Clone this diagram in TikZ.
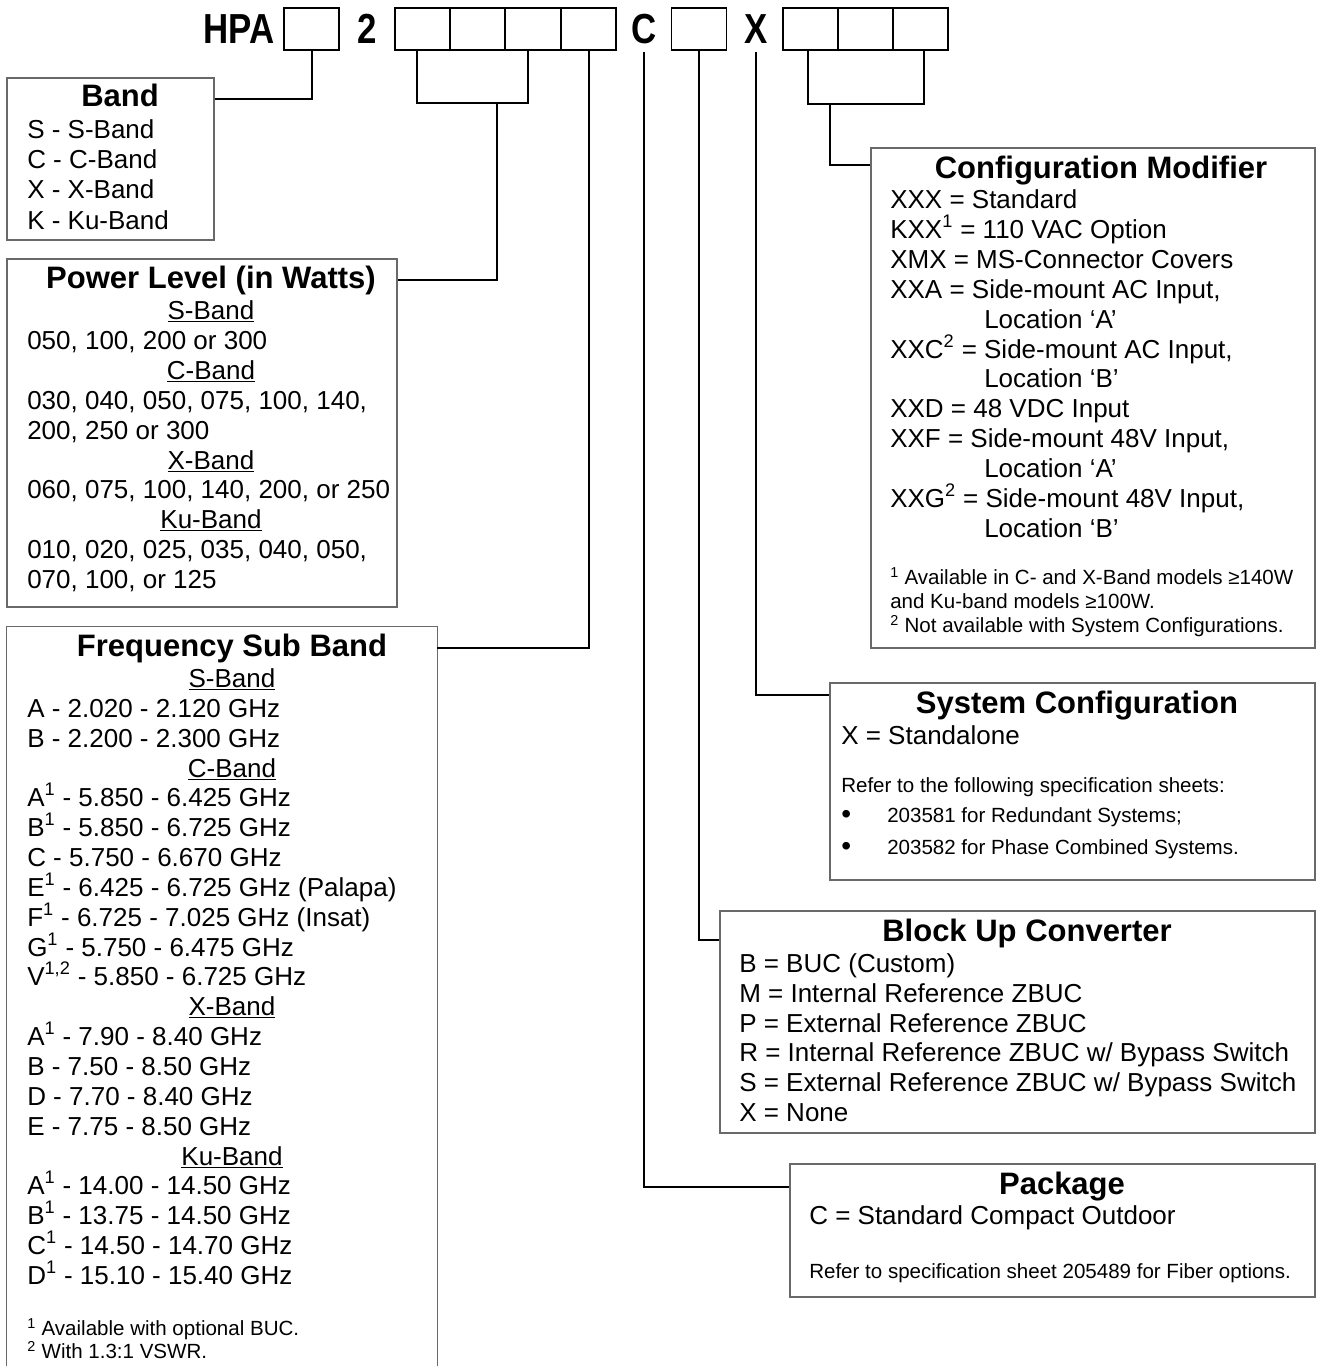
\documentclass[tikz,border=0pt]{standalone}
\usepackage{fontspec}
\setmainfont{Liberation Sans}
\usetikzlibrary{fit}
\definecolor{boxgray}{RGB}{105,105,105}
\newcommand\mybody{\fontsize{19.5}{22.5}\selectfont}
\newcommand\mytitle{\bfseries\fontsize{23.25}{26}\selectfont}
\newcommand\mysmall{\fontsize{15.4}{18}\selectfont}
\newcommand\myhead{\bfseries\fontsize{31.5}{32}\selectfont}
\newcommand\hdtxt[1]{\scalebox{0.83}[1]{#1}}
\begin{document}
\begin{tikzpicture}[x=0.75pt,y=-0.75pt,
  box/.style={draw=boxgray,line width=1.1pt,inner sep=0pt},
  conn/.style={draw=black,line width=1.5pt},
  cell/.style={draw=black,line width=1.4pt,minimum width=41.25pt,minimum height=31.5pt,inner sep=0pt},
  t/.style={anchor=base west,inner sep=0pt,font=\mybody},
  hd/.style={anchor=base,inner sep=0pt,font=\mybody},
  ttl/.style={anchor=base,inner sep=0pt,font=\mytitle},
  sm/.style={anchor=base west,inner sep=0pt,font=\mysmall},
  bul/.style={anchor=base west,inner sep=0pt,font=\fontsize{21}{22}\selectfont},
  big/.style={inner sep=0pt,font=\myhead}]
\path[use as bounding box,clip] (0,0) rectangle (1317,1366);
\fill[white] (0,0) rectangle (1317,1366);

% ---- header code ----
\node[big,anchor=base east] (hpa) at (275,44) {\hdtxt{HPA}};
\node[cell] (ca) at (311.5,29) {};
\node[big,anchor=base] (two) at (367,44) {\hdtxt{2}};
\node[cell] (b1) at (422.5,29) {};
\node[cell] (b2) at (477.5,29) {};
\node[cell] (b3) at (533,29) {};
\node[cell] (b4) at (588.5,29) {};
\node[big,anchor=base] (lc) at (644,44) {\hdtxt{C}};
\node[cell] (cc) at (699,29) {};
\node[big,anchor=base] (lx) at (756,44) {\hdtxt{X}};
\node[cell] (d1) at (810.5,29) {};
\node[cell] (d2) at (865.5,29) {};
\node[cell] (d3) at (920.5,29) {};

% ---- boxes ----
\node[box,fit={(7,78) (214,240)}] (band) {};
\node[box,fit={(7,259) (397,607)}] (power) {};
\node[fit={(7,627) (437,1380)},inner sep=0pt] (freq) {};
\draw[box] (freq.south west) |- (freq.north east) -- (freq.south east);
\node[box,fit={(871,148) (1315,648)}] (cfg) {};
\node[box,fit={(830,683) (1315,880)}] (sys) {};
\node[box,fit={(720,911) (1315,1133)}] (buc) {};
\node[box,fit={(790,1164) (1315,1297)}] (pkg) {};

% ---- connectors ----
\draw[conn] (ca.south) |- (band.east |- 0,99);
\draw[conn] ([xshift=-4.5pt]b1.south) -- ([xshift=-4.5pt]b1.south |- 0,103) -- ([xshift=-3.75pt]b3.south |- 0,103) -- ([xshift=-3.75pt]b3.south);
\coordinate (bm) at (497,103);
\draw[conn] (bm) |- (power.east |- 0,280);
\draw[conn] (b4.south) |- (freq.east |- 0,648);
\draw[conn] (lc.south |- 0,52) |- (pkg.west |- 0,1187);
\draw[conn] (cc.south) |- (buc.west |- 0,940);
\draw[conn] (lx.south |- 0,52) |- (sys.west |- 0,695);
\draw[conn] ([xshift=-1.9pt]d1.south) -- ([xshift=-1.9pt]d1.south |- 0,104) -- ([xshift=2.6pt]d3.south |- 0,104) -- ([xshift=2.6pt]d3.south);
\coordinate (dm) at (830,104);
\draw[conn] (dm) |- (cfg.west |- 0,165);

% ---- Band ----
\node[ttl] (bandT) at (120,107) {Band};
\node[t] (band1) at (27,139) {S - S-Band};
\node[t] (band2) at (27,169) {C - C-Band};
\node[t] (band3) at (27,199) {X - X-Band};
\node[t] (band4) at (27,229) {K - Ku-Band};

% ---- Power ----
\node[ttl] (powT) at (211,288) {Power Level (in Watts)};
\node[hd] (pw1) at (211,319) {\underline{S-Band}};
\node[t] (pw2) at (27,349) {050, 100, 200 or 300};
\node[hd] (pw3) at (211,379) {\underline{C-Band}};
\node[t] (pw4) at (27,409) {030, 040, 050, 075, 100, 140,};
\node[t] (pw5) at (27,439) {200, 250 or 300};
\node[hd] (pw6) at (211,469) {\underline{X-Band}};
\node[t] (pw7) at (27,498) {060, 075, 100, 140, 200, or 250};
\node[hd] (pw8) at (211,528) {\underline{Ku-Band}};
\node[t] (pw9) at (27,558) {010, 020, 025, 035, 040, 050,};
\node[t] (pw10) at (27,588) {070, 100, or 125};

% ---- Frequency ----
\node[ttl] (frT) at (232,656) {Frequency Sub Band};
\node[hd] (fr0) at (232,687) {\underline{S-Band}};
\node[t] (fr1) at (27,717) {A - 2.020 - 2.120 GHz};
\node[t] (fr2) at (27,747) {B - 2.200 - 2.300 GHz};
\node[hd] (fr3) at (232,777) {\underline{C-Band}};
\node[t] (fr4) at (27,806) {A\textsuperscript{1} - 5.850 - 6.425 GHz};
\node[t] (fr5) at (27,836) {B\textsuperscript{1} - 5.850 - 6.725 GHz};
\node[t] (fr6) at (27,866) {C - 5.750 - 6.670 GHz};
\node[t] (fr7) at (27,896) {E\textsuperscript{1} - 6.425 - 6.725 GHz (Palapa)};
\node[t] (fr8) at (27,926) {F\textsuperscript{1} - 6.725 - 7.025 GHz (Insat)};
\node[t] (fr9) at (27,956) {G\textsuperscript{1} - 5.750 - 6.475 GHz};
\node[t] (fr10) at (27,985) {V\textsuperscript{1,2} - 5.850 - 6.725 GHz};
\node[hd] (fr11) at (232,1015) {\underline{X-Band}};
\node[t] (fr12) at (27,1045) {A\textsuperscript{1} - 7.90 - 8.40 GHz};
\node[t] (fr13) at (27,1075) {B - 7.50 - 8.50 GHz};
\node[t] (fr14) at (27,1105) {D - 7.70 - 8.40 GHz};
\node[t] (fr15) at (27,1135) {E - 7.75 - 8.50 GHz};
\node[hd] (fr16) at (232,1165) {\underline{Ku-Band}};
\node[t] (fr17) at (27,1194) {A\textsuperscript{1} - 14.00 - 14.50 GHz};
\node[t] (fr18) at (27,1224) {B\textsuperscript{1} - 13.75 - 14.50 GHz};
\node[t] (fr19) at (27,1254) {C\textsuperscript{1} - 14.50 - 14.70 GHz};
\node[t] (fr20) at (27,1284) {D\textsuperscript{1} - 15.10 - 15.40 GHz};
\node[sm] (frn1) at (27,1335) {\textsuperscript{1} Available with optional BUC.};
\node[sm] (frn2) at (27,1358) {\textsuperscript{2} With 1.3:1 VSWR.};

% ---- Configuration Modifier ----
\node[ttl] (cfgT) at (1101,178) {Configuration Modifier};
\node[t] (cf0) at (890,208) {XXX = Standard};
\node[t] (cf1) at (890,238) {KXX\textsuperscript{1} = 110 VAC Option};
\node[t] (cf2) at (890,268) {XMX = MS-Connector Covers};
\node[t] (cf3) at (890,298) {XXA = Side-mount AC Input,};
\node[t] (cf4) at (984,328) {Location ‘A’};
\node[t] (cf5) at (890,358) {XXC\textsuperscript{2} = Side-mount AC Input,};
\node[t] (cf6) at (984,387) {Location ‘B’};
\node[t] (cf7) at (890,417) {XXD = 48 VDC Input};
\node[t] (cf8) at (890,447) {XXF = Side-mount 48V Input,};
\node[t] (cf9) at (984,477) {Location ‘A’};
\node[t] (cf10) at (890,507) {XXG\textsuperscript{2} = Side-mount 48V Input,};
\node[t] (cf11) at (984,537) {Location ‘B’};
\node[sm] (cfn1) at (890,584) {\textsuperscript{1} Available in C- and X-Band models ≥140W};
\node[sm] (cfn2) at (890,608) {and Ku-band models ≥100W.};
\node[sm] (cfn3) at (890,632) {\textsuperscript{2} Not available with System Configurations.};

% ---- System Configuration ----
\node[ttl] (sysT) at (1077,713) {System Configuration};
\node[t] (sy1) at (841,744) {X = Standalone};
\node[sm] (sy2) at (841,792) {Refer to the following specification sheets:};
\node[bul] (syb1) at (841,823) {•};
\node[sm] (sy3) at (887,822) {203581 for Redundant Systems;};
\node[bul] (syb2) at (841,855) {•};
\node[sm] (sy4) at (887,854) {203582 for Phase Combined Systems.};

% ---- Block Up Converter ----
\node[ttl] (bucT) at (1027,941) {Block Up Converter};
\node[t] (bu1) at (739,972) {B = BUC (Custom)};
\node[t] (bu2) at (739,1002) {M = Internal Reference ZBUC};
\node[t] (bu3) at (739,1032) {P = External Reference ZBUC};
\node[t] (bu4) at (739,1061) {R = Internal Reference ZBUC w/ Bypass Switch};
\node[t] (bu5) at (739,1091) {S = External Reference ZBUC w/ Bypass Switch};
\node[t] (bu6) at (739,1121) {X = None};

% ---- Package ----
\node[ttl] (pkgT) at (1062,1194) {Package};
\node[t] (pk1) at (809,1224) {C = Standard Compact Outdoor};
\node[sm] (pk2) at (809,1278) {Refer to specification sheet 205489 for Fiber options.};
\end{tikzpicture}
\end{document}
